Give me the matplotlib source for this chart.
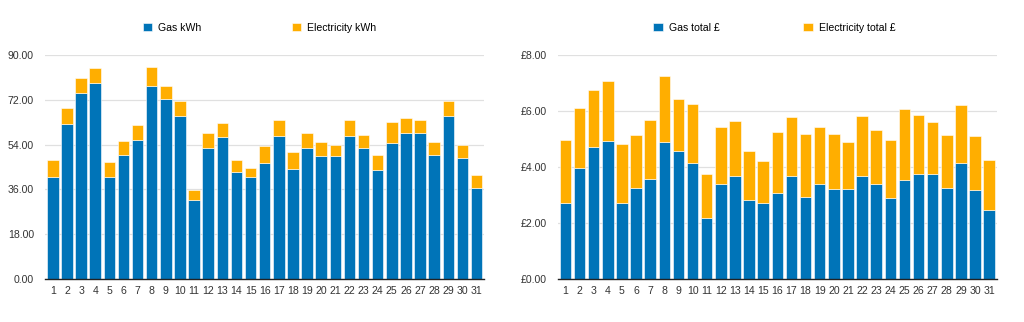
import matplotlib.pyplot as plt
from matplotlib.ticker import FixedLocator

plt.rcParams['font.family'] = ['Liberation Sans', 'DejaVu Sans']

days = list(range(1, 32))

gas_kwh = [41.0, 62.1, 74.8, 78.5, 41.0, 50.0, 55.8, 77.6, 72.3, 65.4,
           31.8, 52.5, 57.2, 43.1, 41.0, 46.6, 57.6, 44.3, 52.8, 49.3,
           49.6, 57.4, 52.6, 43.7, 54.8, 58.5, 58.6, 49.8, 65.4, 48.8, 36.7]
elec_kwh = [6.8, 6.4, 5.9, 6.2, 6.1, 5.4, 6.2, 7.3, 5.0, 6.1,
            4.0, 6.0, 5.4, 4.7, 3.6, 6.7, 6.1, 6.9, 5.8, 5.6,
            4.4, 6.3, 5.4, 6.1, 8.2, 6.1, 5.2, 5.4, 6.1, 5.2, 5.0]

gas_cost = [2.71, 3.98, 4.71, 4.94, 2.71, 3.25, 3.58, 4.89, 4.56, 4.15,
            2.18, 3.39, 3.67, 2.84, 2.71, 3.06, 3.69, 2.92, 3.41, 3.22,
            3.23, 3.68, 3.41, 2.88, 3.54, 3.76, 3.76, 3.24, 4.15, 3.17, 2.46]
elec_cost = [2.25, 2.12, 2.03, 2.11, 2.10, 1.90, 2.11, 2.37, 1.86, 2.08,
             1.57, 2.05, 1.96, 1.73, 1.49, 2.19, 2.08, 2.27, 2.03, 1.94,
             1.67, 2.12, 1.90, 2.07, 2.54, 2.08, 1.84, 1.90, 2.06, 1.92, 1.79]

BLUE = '#0074b8'
ORANGE = '#ffae00'

fig = plt.figure(figsize=(10.24, 3.22), dpi=100)
ax1 = fig.add_axes([0.044, 0.1326, 0.429, 0.6974])
ax2 = fig.add_axes([0.5446, 0.1326, 0.429, 0.6974])


def stacked(ax, gas, elec, labels, yticks, fmt, legend_x, colspace):
    ax.bar(days, gas, width=0.82, color=BLUE, edgecolor='#ffffff', linewidth=0.4,
           label=labels[0], zorder=3)
    ax.bar(days, elec, width=0.82, bottom=gas, color=ORANGE, edgecolor='#ffffff',
           linewidth=0.4, label=labels[1], zorder=3)
    ax.set_xlim(0.45, 31.55)
    ax.set_ylim(0, yticks[-1])
    ax.set_xticks(days)
    ax.set_xticklabels([str(d) for d in days])
    ax.yaxis.set_major_locator(FixedLocator(yticks))
    ax.set_yticklabels([fmt(v) for v in yticks])
    ax.grid(axis='y', color='#e0e0e0', linewidth=0.9, zorder=0)
    for side in ('top', 'right', 'left'):
        ax.spines[side].set_visible(False)
    ax.spines['bottom'].set_color('#222222')
    ax.spines['bottom'].set_linewidth(1.0)
    ax.spines['bottom'].set_zorder(4)
    ax.tick_params(axis='both', length=0, labelsize=7.6, colors='#333333')
    ax.tick_params(axis='y', pad=8)
    ax.tick_params(axis='x', pad=5)
    ax.legend(loc='lower center', bbox_to_anchor=(legend_x, 1.08), ncol=2,
              frameon=False, fontsize=7.6, handlelength=0.9, handleheight=0.9,
              handletextpad=0.55, columnspacing=colspace, borderaxespad=0)


stacked(ax1, gas_kwh, elec_kwh, ['Gas kWh', 'Electricity kWh'],
        [0, 18, 36, 54, 72, 90], lambda v: f'{v:.2f}', 0.488, 8.55)
stacked(ax2, gas_cost, elec_cost, ['Gas total £', 'Electricity total £'],
        [0, 2, 4, 6, 8], lambda v: f'£{v:.2f}', 0.493, 7.95)

fig.savefig('out.png', dpi=100, facecolor='white')
